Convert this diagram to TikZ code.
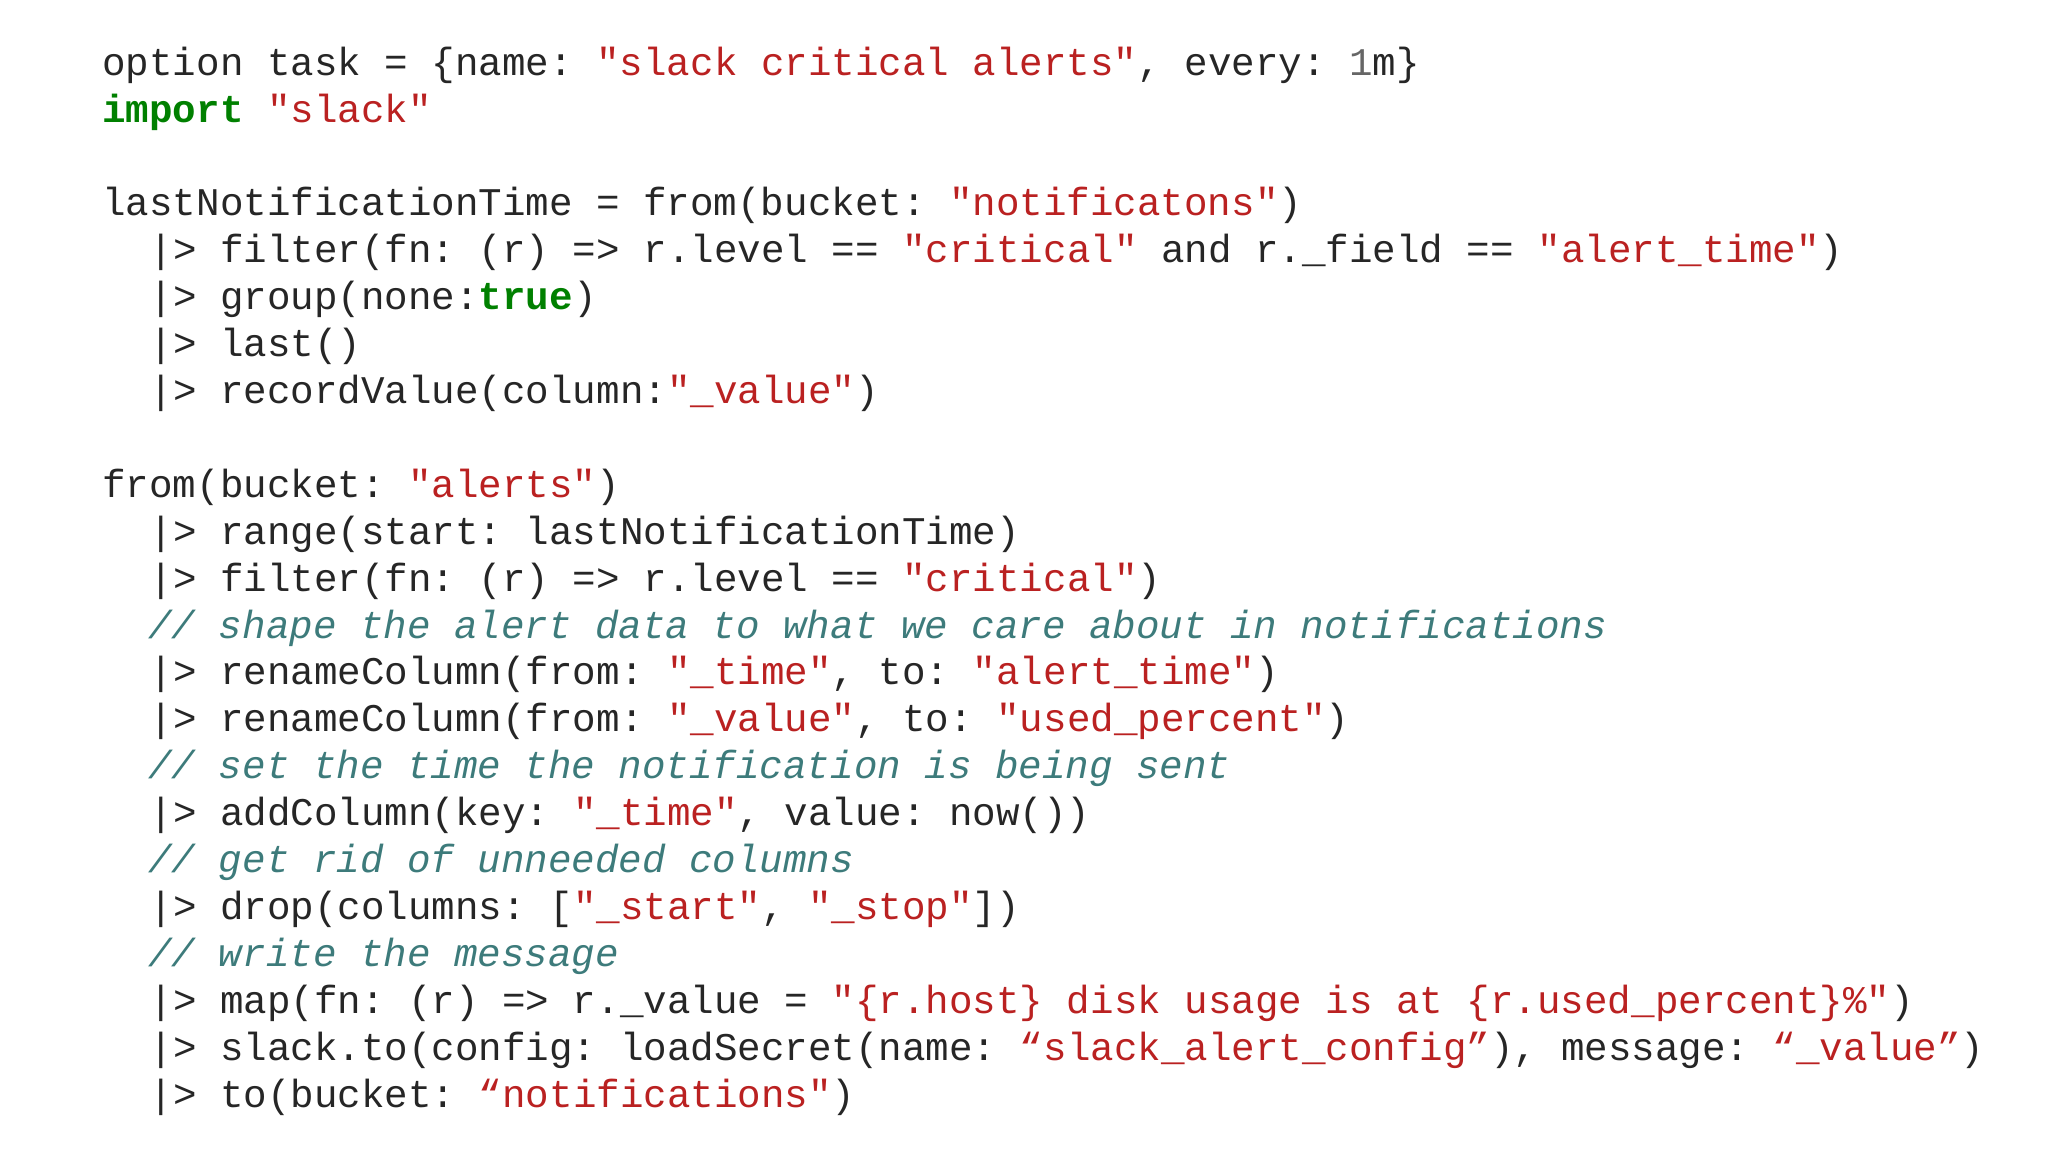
\documentclass[tikz,border=0pt]{standalone}
\usepackage{fontspec}
\setmonofont{Liberation Mono}
\definecolor{strc}{RGB}{186,33,33}
\definecolor{kwc}{RGB}{0,128,0}
\definecolor{cmc}{RGB}{61,123,123}
\definecolor{numc}{RGB}{102,102,102}
\newcommand{\Sq}[1]{\textcolor{strc}{#1}}
\newcommand{\Kw}[1]{\textcolor{kwc}{\bfseries #1}}
\newcommand{\Cm}[1]{\textcolor{cmc}{\itshape #1}}
\tikzset{codeline/.style={anchor=base west,inner sep=0pt,font=\ttfamily\fontsize{19.6pt}{22pt}\selectfont,text=black!85}}
\begin{document}
\begin{tikzpicture}[x=1pt,y=-1pt]
\useasboundingbox (0,0) rectangle (1024,576);
\def\LH{23.45}
\def\Y#1{31.3+6.3+\LH*#1}
\def\PX{74.6}
\node[codeline] (l0) at (51,{\Y{0}}) {option task = \{name: \Sq{"slack critical alerts"}, every: \textcolor{numc}{1}m\}};
\node[codeline] (l1) at (51,{\Y{1}}) {\Kw{import} \Sq{"slack"}};
\node[codeline] (l3) at (51,{\Y{3}}) {lastNotificationTime = from(bucket: \Sq{"notificatons"})};
\node[codeline] (l4) at (\PX,{\Y{4}}) {|> filter(fn: (r) => r.level == \Sq{"critical"} and r.\_field == \Sq{"alert\_time"})};
\node[codeline] (l5) at (\PX,{\Y{5}}) {|> group(none:\Kw{true})};
\node[codeline] (l6) at (\PX,{\Y{6}}) {|> last()};
\node[codeline] (l7) at (\PX,{\Y{7}}) {|> recordValue(column:\Sq{"\_value"})};
\node[codeline] (l9) at (51,{\Y{9}}) {from(bucket: \Sq{"alerts"})};
\node[codeline] (l10) at (\PX,{\Y{10}}) {|> range(start: lastNotificationTime)};
\node[codeline] (l11) at (\PX,{\Y{11}}) {|> filter(fn: (r) => r.level == \Sq{"critical"})};
\node[codeline] (l12) at (74,{\Y{12}}) {\Cm{// shape the alert data to what we care about in notifications}};
\node[codeline] (l13) at (\PX,{\Y{13}}) {|> renameColumn(from: \Sq{"\_time"}, to: \Sq{"alert\_time"})};
\node[codeline] (l14) at (\PX,{\Y{14}}) {|> renameColumn(from: \Sq{"\_value"}, to: \Sq{"used\_percent"})};
\node[codeline] (l15) at (74,{\Y{15}}) {\Cm{// set the time the notification is being sent}};
\node[codeline] (l16) at (\PX,{\Y{16}}) {|> addColumn(key: \Sq{"\_time"}, value: now())};
\node[codeline] (l17) at (74,{\Y{17}}) {\Cm{// get rid of unneeded columns}};
\node[codeline] (l18) at (\PX,{\Y{18}}) {|> drop(columns: [\Sq{"\_start"}, \Sq{"\_stop"}])};
\node[codeline] (l19) at (74,{\Y{19}}) {\Cm{// write the message}};
\node[codeline] (l20) at (\PX,{\Y{20}}) {|> map(fn: (r) => r.\_value = \Sq{"\{r.host\} disk usage is at \{r.used\_percent\}\%"})};
\node[codeline] (l21) at (\PX,{\Y{21}}) {|> slack.to(config: loadSecret(name: \Sq{“slack\_alert\_config”}), message: \Sq{“\_value”})};
\node[codeline] (l22) at (\PX,{\Y{22}}) {|> to(bucket: \Sq{“notifications"})};
\end{tikzpicture}
\end{document}
